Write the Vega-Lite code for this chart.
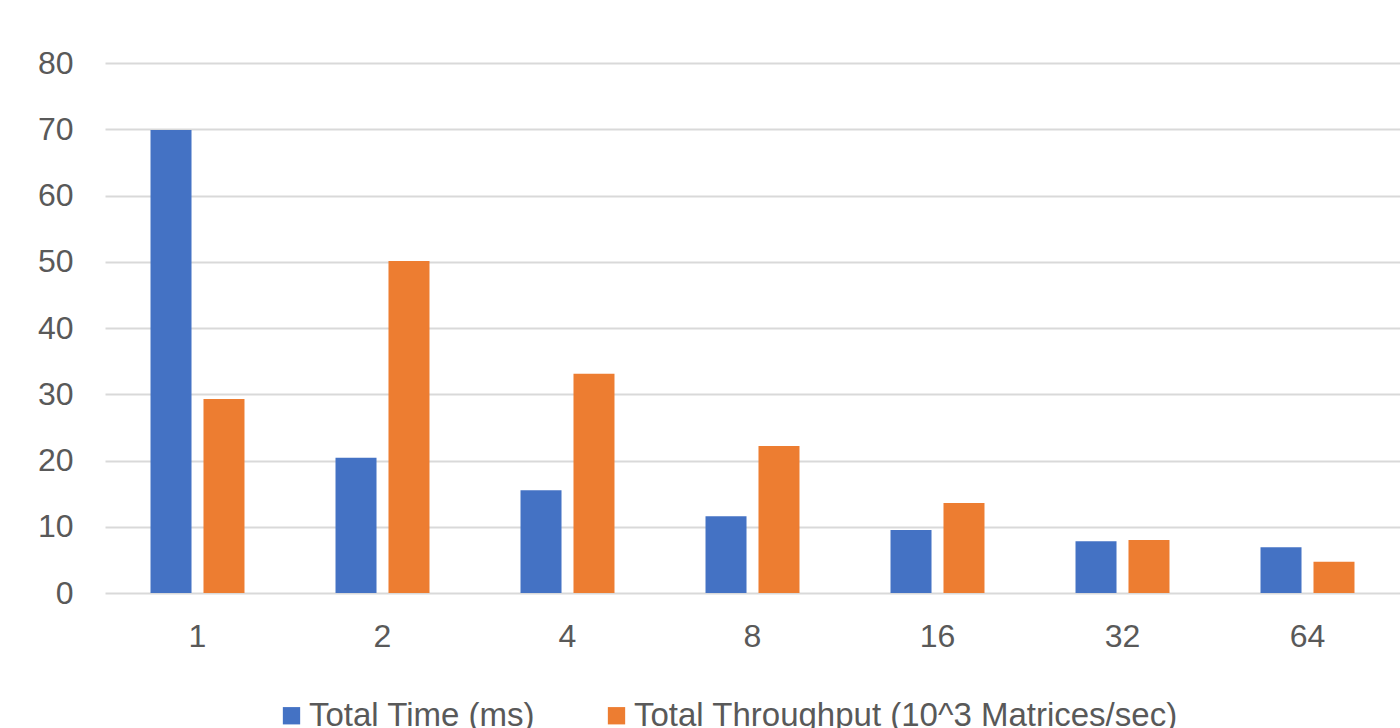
{
  "$schema": "https://vega.github.io/schema/vega-lite/v6.json",
  "autosize": "none",
  "width": 1295,
  "height": 530,
  "padding": {"left": 105, "top": 63, "right": 0, "bottom": 135},
  "background": "white",
  "config": {
    "view": {"stroke": null},
    "font": "Liberation Sans",
    "axis": {"labelFont": "Liberation Sans", "labelColor": "#595959", "labelFontSize": 32, "domain": false, "ticks": false},
    "legend": {"labelFont": "Liberation Sans", "labelColor": "#595959", "labelFontSize": 33}
  },
  "data": {
    "values": [
      {"threads": "1", "series": "Total Time (ms)", "value": 69.9},
      {"threads": "1", "series": "Total Throughput (10^3 Matrices/sec)", "value": 29.3},
      {"threads": "2", "series": "Total Time (ms)", "value": 20.4},
      {"threads": "2", "series": "Total Throughput (10^3 Matrices/sec)", "value": 50.1},
      {"threads": "4", "series": "Total Time (ms)", "value": 15.5},
      {"threads": "4", "series": "Total Throughput (10^3 Matrices/sec)", "value": 33.1},
      {"threads": "8", "series": "Total Time (ms)", "value": 11.6},
      {"threads": "8", "series": "Total Throughput (10^3 Matrices/sec)", "value": 22.2},
      {"threads": "16", "series": "Total Time (ms)", "value": 9.5},
      {"threads": "16", "series": "Total Throughput (10^3 Matrices/sec)", "value": 13.6},
      {"threads": "32", "series": "Total Time (ms)", "value": 7.8},
      {"threads": "32", "series": "Total Throughput (10^3 Matrices/sec)", "value": 8.0},
      {"threads": "64", "series": "Total Time (ms)", "value": 6.9},
      {"threads": "64", "series": "Total Throughput (10^3 Matrices/sec)", "value": 4.7}
    ]
  },
  "mark": {"type": "bar"},
  "encoding": {
    "x": {
      "field": "threads", "type": "nominal", "sort": ["1", "2", "4", "8", "16", "32", "64"],
      "scale": {"paddingInner": 0.492, "paddingOuter": 0.246},
      "axis": {"title": null, "labelAngle": 0, "labelPadding": 28, "grid": false}
    },
    "xOffset": {
      "field": "series", "type": "nominal",
      "sort": ["Total Time (ms)", "Total Throughput (10^3 Matrices/sec)"],
      "scale": {"paddingInner": 0.226, "paddingOuter": 0}
    },
    "y": {
      "field": "value", "type": "quantitative",
      "scale": {"domain": [0, 80], "nice": false},
      "axis": {"title": null, "values": [0, 10, 20, 30, 40, 50, 60, 70, 80], "grid": true, "gridColor": "#d9d9d9", "gridWidth": 2, "labelPadding": 32}
    },
    "color": {
      "field": "series", "type": "nominal",
      "sort": ["Total Time (ms)", "Total Throughput (10^3 Matrices/sec)"],
      "scale": {"range": ["#4472C4", "#ED7D31"]},
      "legend": {
        "title": null, "orient": "none", "direction": "horizontal",
        "legendX": 170, "legendY": 636,
        "symbolType": "square", "symbolSize": 300, "symbolStrokeWidth": 0,
        "labelOffset": 1, "columnPadding": 64, "labelLimit": 1000
      }
    }
  }
}
